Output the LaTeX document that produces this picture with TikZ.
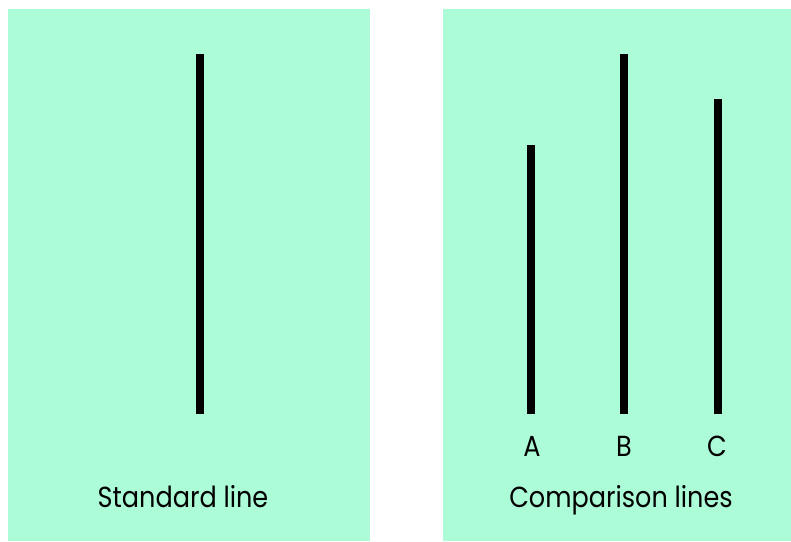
\documentclass[tikz,border=0pt]{standalone}
\usepackage{fontspec}
\setmainfont{Poppins}[FakeStretch=0.88]
\definecolor{panelgreen}{RGB}{173,252,216}
\begin{document}
\begin{tikzpicture}[x=1pt, y=-1pt,
  panel/.style={fill=panelgreen, draw=none},
  bar/.style={line width=8pt},
  caption/.style={anchor=base, font=\fontsize{29}{34}\selectfont, inner sep=0pt}]
  \useasboundingbox (0,0) rectangle (791,541);
  % Felder
  \fill[panel] (8,9) rectangle (370,541);
  \fill[panel] (443,9) rectangle (791,541);
  % Standardlinie
  \coordinate (stdtop) at (200,54);
  \coordinate (stdbot) at (200,414);
  \draw[bar] (stdtop) -- (stdbot);
  % Vergleichslinien
  \coordinate (atop) at (531,145);
  \coordinate (abot) at (531,414);
  \coordinate (btop) at (624,54);
  \coordinate (bbot) at (624,414);
  \coordinate (ctop) at (718,99);
  \coordinate (cbot) at (718,414);
  \draw[bar] (atop) -- (abot);
  \draw[bar] (btop) -- (bbot);
  \draw[bar] (ctop) -- (cbot);
  % Beschriftungen
  \node[caption] (la) at (532,456) {A};
  \node[caption] (lb) at (624,456) {B};
  \node[caption] (lc) at (717,456) {C};
  \node[caption] (std) at (183,507) {Standard line};
  \node[caption] (cmp) at (621,507) {Comparison lines};
\end{tikzpicture}
\end{document}
